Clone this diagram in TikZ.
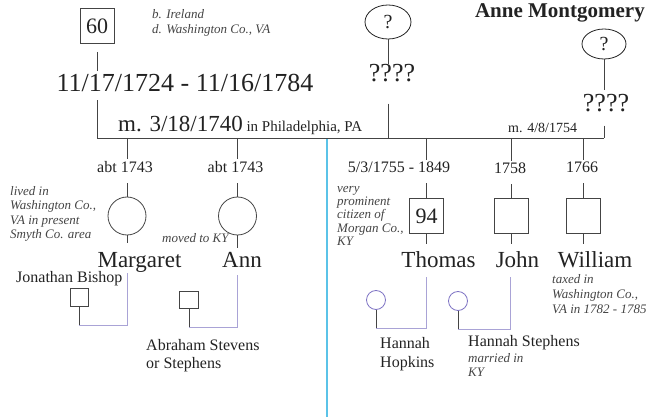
\documentclass[tikz,border=0pt]{standalone}
\usepackage{fontspec}
\setmainfont{Liberation Serif}
\usetikzlibrary{shapes.geometric}
\definecolor{lineg}{HTML}{444444}
\definecolor{spousec}{HTML}{A9A3D6}
\definecolor{spcirc}{HTML}{7F74C4}
\definecolor{cyanl}{HTML}{5BC3E8}
\definecolor{txtc}{HTML}{222222}
\definecolor{notec}{HTML}{444444}
\newcommand\fsz[2]{\fontsize{#1}{#2}\selectfont}
\begin{document}
\begin{tikzpicture}[x=1pt,y=-1pt,
 conn/.style={draw=lineg, line width=0.8pt},
 spline/.style={draw=spousec, line width=1pt},
 txt/.style={inner sep=0pt, text=txtc},
 big/.style={txt, font=\fsz{26}{30}},
 nm/.style={txt, font=\fsz{23}{26}},
 mid/.style={txt, font=\fsz{16}{18}},
 note/.style={inner sep=0pt, text=notec, font=\fsz{13}{14.5}\itshape, align=left},
 malebox/.style={draw=lineg, line width=0.8pt, minimum width=34pt, minimum height=35pt, inner sep=0pt, text=txtc, font=\fsz{22}{24}},
 femcirc/.style={draw=lineg, line width=0.8pt, circle, minimum size=38pt, inner sep=0pt},
 qell/.style={draw=txtc, ellipse, line width=0.8pt, inner sep=0pt, text=txtc, font=\fsz{20}{22}},
 smallbox/.style={draw=lineg, line width=0.8pt, minimum size=18pt, inner sep=0pt},
 smallcirc/.style={draw=spcirc, circle, line width=0.8pt, minimum size=19pt, inner sep=0pt},
]
\useasboundingbox (0,0) rectangle (646,417);

% cyan divider
\coordinate (cyT) at (327,138);
\coordinate (cyB) at (327,417);
\draw[cyanl, line width=1.2pt] (cyT) -- (cyB);

% ---- parents
\node[malebox] (p60) at (97,26) {60};
\node[note, font=\fsz{13}{15}\itshape, anchor=north west] (info) at (152,9) {b. Ireland\\d. Washington Co., VA};
\node[big, anchor=base] (d1) at (185,92) {11/17/1724 - 11/16/1784};
\draw[conn, shorten <=8pt, shorten >=4pt] (p60.south) -- (p60.south |- d1.north);

\node[qell, minimum width=46pt, minimum height=34pt] (q1) at (388,22) {?};
\node[big, anchor=base] (q1d) at (392,82) {????};
\draw[conn, shorten >=1pt] (q1.south) -- (q1.south |- q1d.north);

\node[txt, font=\fsz{21}{24}\bfseries, anchor=base east] (anne) at (645,18) {Anne Montgomery};
\node[qell, minimum width=44pt, minimum height=30pt] (q2) at (604,44) {?};
\node[big, anchor=base] (q2d) at (606,112) {????};
\draw[conn, shorten >=5pt] (q2.south) -- (q2.south |- q2d.north);

% marriage line
\coordinate (mL) at (97,138);
\coordinate (mQ) at (388,138);
\coordinate (mR) at (604,138);
\draw[conn, shorten <=8pt] (p60 |- d1.south) -- (mL);
\draw[conn, shorten <=21pt] (q1 |- q1d.south) -- (mQ);
\draw[conn, shorten <=13pt] (q2 |- q2d.south) -- (mR);
\draw[conn] (mL) -- (mR);

\node[txt, anchor=base west] (m1) at (118,132) {\fsz{23}{26}m. 3/18/1740\fsz{15}{18} in Philadelphia, PA};
\node[txt, font=\fsz{14}{16}, anchor=base west] (m2) at (508,133) {m. 4/8/1754};

% ---- children
\node[femcirc] (cM) at (127,216) {};
\node[mid, anchor=base] (dM) at (125,173) {abt 1743};
\node[nm, anchor=base] (nM) at (139.5,267) {Margaret};

\node[femcirc] (cA) at (237.5,216) {};
\node[mid, anchor=base] (dA) at (235.5,173) {abt 1743};
\node[nm, anchor=base] (nA) at (242,267) {Ann};

\node[malebox] (cT) at (426.5,216) {94};
\node[mid, anchor=base] (dT) at (399,173) {5/3/1755 - 1849};
\node[nm, anchor=base] (nT) at (438.5,267) {Thomas};

\node[malebox] (cJ) at (511,216) {};
\node[mid, anchor=base] (dJ) at (510,174) {1758};
\node[nm, anchor=base] (nJ) at (517.5,267) {John};

\node[malebox] (cW) at (583.5,216) {};
\node[mid, anchor=base] (dW) at (582,173) {1766};
\node[nm, anchor=base] (nW) at (595,267) {William};

\foreach \c/\d in {cM/dM, cA/dA, cT/dT, cJ/dJ, cW/dW}{
  \draw[conn, shorten >=2.5pt] (\c |- mL) -- (\c |- \d.north);
  \draw[conn, shorten <=10pt] (\c |- \d.south) -- (\c.north);
}
\draw[conn, shorten >=8.5pt] (cM.south) -- (cM |- nM.north);
\draw[conn, shorten >=4pt] (cA.south) -- (cA |- nA.north);
\draw[conn, shorten >=7pt] (cT.south) -- (cT |- nT.north);
\draw[conn, shorten >=7pt] (cJ.south) -- (cJ |- nJ.north);
\draw[conn, shorten >=7pt] (cW.south) -- (cW |- nW.north);

% notes
\node[note, anchor=north west] (nLived) at (10,186) {lived in\\Washington Co.,\\VA in present\\Smyth Co. area};
\node[note, anchor=base west] (nKY) at (162,243) {moved to KY};
\node[note, font=\fsz{13}{13.3}\itshape, anchor=north west] (nProm) at (337,186) {very\\prominent\\citizen of\\Morgan Co.,\\KY};
\node[note, font=\fsz{13}{15}\itshape, anchor=north west] (nTax) at (552,274) {taxed in\\Washington Co.,\\VA in 1782 - 1785};

% ---- spouses
\node[smallbox] (sM) at (79,297) {};
\node[mid, anchor=base west] (wM) at (16,283) {Jonathan Bishop};
\coordinate (jM) at (127,325);
\draw[spline, shorten <=1pt] (cM |- nM.south) -- (jM) -- (jM -| sM);
\draw[conn] (sM.south) -- (sM |- jM);

\node[smallbox, minimum width=19pt, minimum height=17pt] (sA) at (189,299.5) {};
\node[mid, align=left, anchor=north west] (wA) at (146,339) {Abraham Stevens\\or Stephens};
\coordinate (jA) at (237.5,327);
\draw[spline, shorten <=8pt] (cA |- nA.south) -- (jA) -- (jA -| sA);
\draw[conn] (sA.south) -- (sA |- jA);

\node[smallcirc] (sT) at (376,300) {};
\node[txt, font=\fsz{16}{19}, align=left, anchor=north west] (wT) at (380,337.4) {Hannah\\Hopkins};
\coordinate (jT) at (426.5,328);
\draw[spline, shorten <=10pt] (cT |- nT.south) -- (jT) -- (jT -| sT);
\draw[conn] (sT.south) -- (sT |- jT);

\node[smallcirc] (sJ) at (458,301) {};
\node[mid, anchor=base west] (wJ) at (468,346) {Hannah Stephens};
\node[note, font=\fsz{13}{14}\itshape, anchor=north west] (nMar) at (468,353) {married in\\KY};
\coordinate (jJ) at (510,329);
\draw[spline, shorten <=10pt] (jJ |- nJ.south) -- (jJ) -- (jJ -| sJ);
\draw[conn] (sJ.south) -- (sJ |- jJ);
\end{tikzpicture}
\end{document}
